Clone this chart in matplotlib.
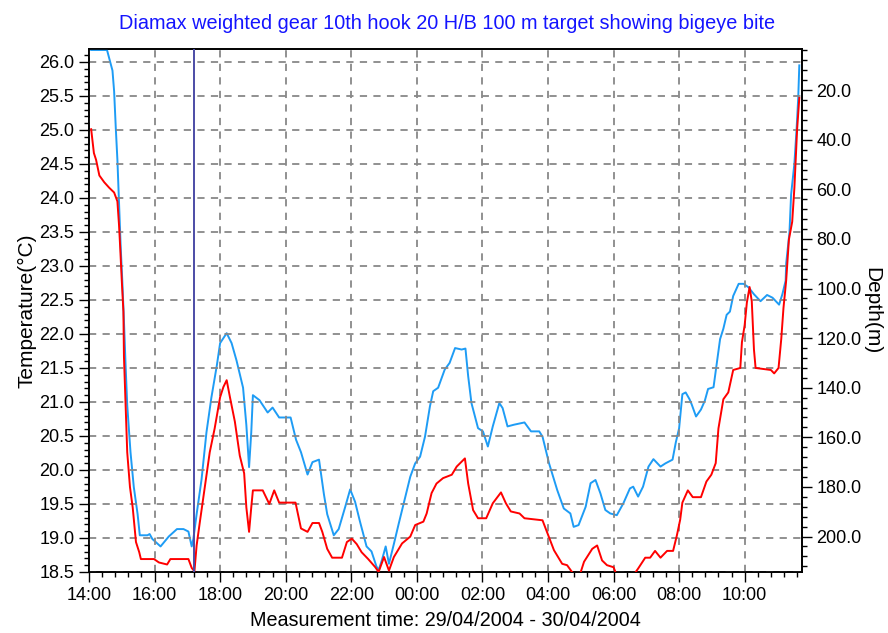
import matplotlib
matplotlib.use("Agg")
import matplotlib.pyplot as plt
from matplotlib.ticker import MultipleLocator, FormatStrFormatter

# time axis: minutes after 14:00 on 29/04/2004
TIME_TICKS = [0, 120, 240, 360, 480, 600, 720, 840, 960, 1080, 1200]
TIME_LABELS = ["14:00", "16:00", "18:00", "20:00", "22:00", "00:00",
               "02:00", "04:00", "06:00", "08:00", "10:00"]

depth_minutes = [
    4, 33, 43, 46, 49, 52, 55, 58, 61, 64, 67, 70, 76, 82, 89, 93, 107, 111,
    116, 126, 131, 146, 161, 173, 182, 188, 191, 197, 206, 215, 224, 234, 240,
    246, 252, 261, 270, 282, 288, 293, 297, 300, 312, 327, 336, 348, 369, 379,
    388, 400, 409, 421, 430, 436, 448, 457, 469, 478, 487, 496, 508, 517, 526,
    530, 536, 543, 549, 558, 567, 579, 588, 597, 606, 615, 624, 630, 639, 651,
    660, 670, 682, 689, 694, 700, 712, 721, 730, 739, 751, 757, 766, 778, 797,
    809, 824, 830, 842, 857, 869, 881, 887, 896, 909, 918, 927, 936, 945, 954,
    966, 978, 990, 996, 1005, 1014, 1024, 1033, 1046, 1055, 1068, 1074, 1080,
    1086, 1092, 1099, 1103, 1111, 1120, 1127, 1133, 1143, 1149, 1155, 1161,
    1167, 1173, 1179, 1189, 1198, 1207, 1217, 1229, 1241, 1251, 1263, 1269,
    1275, 1276, 1282, 1285, 1291, 1295, 1298, 1300,
]
depth_m = [
    3.8, 3.8, 12.1, 20.4, 35, 48, 65, 83, 97, 113, 131, 147, 166, 180, 191,
    199.5, 199.5, 199, 201, 203, 204, 200, 197, 197, 198, 204, 201, 191, 177,
    158, 144, 131, 122, 120, 118, 122, 129, 140, 155, 172, 158, 143, 145, 150,
    148, 152, 152, 161, 166, 175, 170, 169, 183, 191, 199.5, 197, 188, 181,
    186, 194, 204, 206, 212, 213.6, 209.6, 204, 211, 203, 194.7, 184, 175.9,
    170.5, 167.8, 159.7, 147.5, 141.4, 140, 132.7, 130, 124, 124.6, 124.2,
    135.4, 146.2, 156.3, 157.6, 163.7, 155.6, 146.2, 148.2, 155.6, 154.9, 154,
    157.6, 157.6, 159.7, 170.5, 181.3, 188.7, 190.7, 196.1, 195.4, 188, 178.5,
    177.2, 182.6, 189.3, 190.7, 191.4, 186.6, 180.6, 179.9, 183.9, 179.9,
    171.8, 168.8, 171.8, 170.5, 169, 162, 156.4, 142.6, 141.9, 144.6, 146.7,
    151.6, 148.8, 145.3, 140.5, 139.8, 130.1, 120.4, 116.2, 110.6, 109.3, 103,
    98.1, 98.1, 99.5, 102.3, 105.1, 102.6, 103.7, 106.5, 102.3, 96.8, 89.8,
    77.3, 62.1, 49.6, 35.7, 23.2, 10,
]

temp_minutes = [
    4, 9, 13, 19, 28, 37, 46, 52, 55, 57, 60, 63, 64, 67, 70, 75, 80, 86, 92,
    95, 119, 128, 143, 149, 182, 188, 193, 197, 203, 212, 221, 230, 240, 246,
    252, 258, 267, 276, 284, 288, 293, 297, 300, 318, 324, 330, 339, 348, 378,
    388, 400, 409, 421, 427, 436, 445, 463, 472, 481, 490, 499, 511, 524, 530,
    540, 549, 558, 573, 588, 597, 612, 618, 627, 636, 648, 664, 673, 688, 694,
    703, 712, 727, 739, 754, 763, 772, 788, 797, 830, 839, 851, 866, 875, 884,
    896, 906, 921, 930, 939, 948, 960, 966, 990, 1005, 1018, 1027, 1036, 1046,
    1058, 1069, 1076, 1082, 1086, 1096, 1105, 1120, 1130, 1139, 1147, 1152,
    1161, 1170, 1179, 1192, 1195, 1200, 1204, 1209, 1213, 1217, 1220, 1248,
    1254, 1262, 1267, 1271, 1276, 1281, 1287, 1291, 1296, 1300,
]
temp_c = [
    25.01, 24.66, 24.56, 24.33, 24.23, 24.15, 24.08, 23.95, 23.6, 23.29, 22.79,
    22.33, 21.67, 20.96, 20.26, 19.75, 19.45, 18.94, 18.79, 18.69, 18.69,
    18.64, 18.61, 18.69, 18.69, 18.56, 18.51, 18.89, 19.24, 19.75, 20.26,
    20.61, 21.07, 21.22, 21.32, 21.07, 20.71, 20.21, 19.95, 19.45, 19.09,
    19.45, 19.7, 19.7, 19.6, 19.5, 19.7, 19.52, 19.52, 19.14, 19.09, 19.22,
    19.22, 19.09, 18.84, 18.71, 18.71, 18.94, 18.99, 18.91, 18.79, 18.69,
    18.57, 18.5, 18.72, 18.52, 18.72, 18.92, 19.02, 19.19, 19.24, 19.36, 19.66,
    19.8, 19.88, 19.93, 20.05, 20.17, 19.8, 19.41, 19.29, 19.29, 19.51, 19.67,
    19.51, 19.39, 19.36, 19.29, 19.26, 19.07, 18.82, 18.62, 18.6, 18.5, 18.4,
    18.65, 18.84, 18.89, 18.67, 18.6, 18.57, 18.45, 18.38, 18.55, 18.71,
    18.71, 18.81, 18.71, 18.81, 18.81, 19.04, 19.27, 19.52, 19.7, 19.6, 19.6,
    19.83, 19.93, 20.1, 20.61, 21.04, 21.14, 21.47, 21.5, 21.88, 22.13, 22.46,
    22.69, 22.48, 21.77, 21.5, 21.47, 21.42, 21.5, 21.93, 22.38, 22.79, 23.39,
    23.65, 24.15, 25.01, 25.47,
]

BITE_MINUTE = 193  # vertical marker

COLOR_TEMP = "#ff0000"
COLOR_DEPTH = "#1e9cf5"
COLOR_MARK = "#4c4ca6"
COLOR_TITLE = "#1414ff"

plt.rcParams["font.family"] = ["Liberation Sans", "DejaVu Sans"]

fig = plt.figure(figsize=(8.88, 6.33), dpi=100)
ax = fig.add_axes([0.1002, 0.0964, 0.803, 0.8262])
ax2 = ax.twinx()

ax2.plot(depth_minutes, depth_m, color=COLOR_DEPTH, lw=1.4, zorder=3)
ax.plot(temp_minutes, temp_c, color=COLOR_TEMP, lw=1.4, zorder=3)
ax.axvline(BITE_MINUTE, color=COLOR_MARK, lw=1.4, zorder=4)

ax.set_zorder(ax2.get_zorder() + 1)
ax.patch.set_visible(False)

ax.set_xlim(0, 1305)
ax.set_ylim(18.5, 26.19)
ax2.set_ylim(214.3, 3.4)

ax.set_xticks(TIME_TICKS, TIME_LABELS)
ax.xaxis.set_minor_locator(MultipleLocator(24))
ax.yaxis.set_major_locator(MultipleLocator(0.5))
ax.yaxis.set_minor_locator(MultipleLocator(0.1))
ax.yaxis.set_major_formatter(FormatStrFormatter("%.1f"))
ax2.yaxis.set_major_locator(MultipleLocator(20))
ax2.yaxis.set_minor_locator(MultipleLocator(4))
ax2.yaxis.set_major_formatter(FormatStrFormatter("%.1f"))

ax.grid(True, which="major", color="#888888", linestyle=(0, (4, 3.5)), lw=1.3)
ax.tick_params(which="major", length=7, width=1, labelsize=13, direction="out")
ax.tick_params(which="minor", length=3.5, width=1, direction="out")
ax2.tick_params(which="major", length=7, width=1, labelsize=13, direction="out")
ax2.tick_params(which="minor", length=3.5, width=1, direction="out")

for spine in list(ax.spines.values()) + list(ax2.spines.values()):
    spine.set_linewidth(1.2)

ax.set_ylabel("Temperature(°C)", fontsize=15, labelpad=2)
ax2.set_ylabel("Depth(m)", fontsize=15, rotation=270, labelpad=14)
ax.set_xlabel("Measurement time: 29/04/2004 - 30/04/2004", fontsize=14.2, labelpad=5)
fig.suptitle("Diamax weighted gear 10th hook 20 H/B 100 m target showing bigeye bite",
             color=COLOR_TITLE, fontsize=14.3, y=0.978, x=0.504)

fig.savefig("out.png", dpi=100)
